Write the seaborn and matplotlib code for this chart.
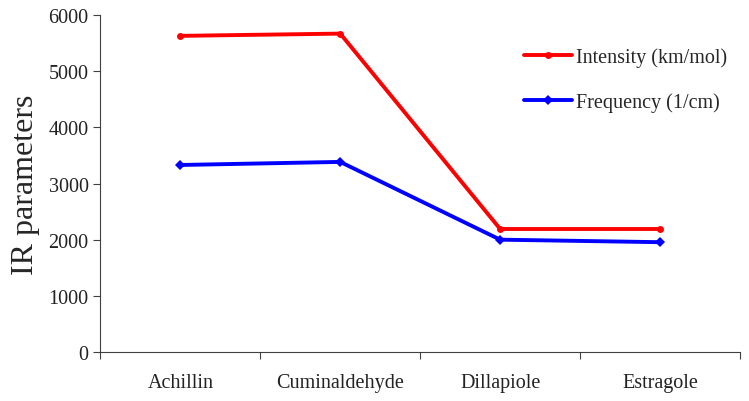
import pandas as pd
import seaborn as sns
import matplotlib.pyplot as plt
from matplotlib.ticker import FixedLocator, NullFormatter

compounds = ["Achillin", "Cuminaldehyde", "Dillapiole", "Estragole"]
intensity = [5630, 5670, 2190, 2190]
frequency = [3330, 3385, 2000, 1955]

df = pd.DataFrame({
    "compound": compounds * 2,
    "value": intensity + frequency,
    "series": ["Intensity (km/mol)"] * 4 + ["Frequency (1/cm)"] * 4,
})

sns.set_style("ticks")
plt.rcParams["font.family"] = ["Liberation Serif", "DejaVu Serif"]

fig, ax = plt.subplots(figsize=(7.49, 4.02), dpi=100)
fig.subplots_adjust(left=0.134, right=0.988, top=0.96, bottom=0.122)

sns.lineplot(data=df, x="compound", y="value", hue="series", style="series",
             palette={"Intensity (km/mol)": "#ff0000", "Frequency (1/cm)": "#0000ff"},
             markers={"Intensity (km/mol)": "o", "Frequency (1/cm)": "D"},
             dashes=False, linewidth=2.8, markersize=5, markeredgewidth=0, ax=ax)

ax.set_xlim(-0.5, 3.5)
ax.set_ylim(0, 6000)
ax.set_yticks(range(0, 6001, 1000))
ax.xaxis.set_major_locator(FixedLocator([-0.5, 0.5, 1.5, 2.5, 3.5]))
ax.xaxis.set_major_formatter(NullFormatter())
ax.xaxis.set_minor_locator(FixedLocator([0, 1, 2, 3]))
ax.set_xticklabels(compounds, minor=True)
ax.tick_params(axis="x", which="minor", length=0, pad=15, labelsize=14.5, labelcolor="#222222")
ax.tick_params(axis="x", which="major", length=5, color="#404040")
ax.tick_params(axis="y", length=5, color="#404040", labelsize=14.5, labelcolor="#222222")
ax.set_xlabel("")
ax.set_ylabel("IR parameters", fontsize=23, labelpad=6)

for s in ["left", "bottom"]:
    ax.spines[s].set_color("#404040")
sns.despine(ax=ax)

ax.legend(title=None, frameon=False, fontsize=14.5, loc="center left",
          bbox_to_anchor=(0.662, 0.808), borderpad=0, borderaxespad=0,
          handlelength=2.4, labelspacing=1.25, handletextpad=0.2)

plt.savefig("out.png", dpi=100)
